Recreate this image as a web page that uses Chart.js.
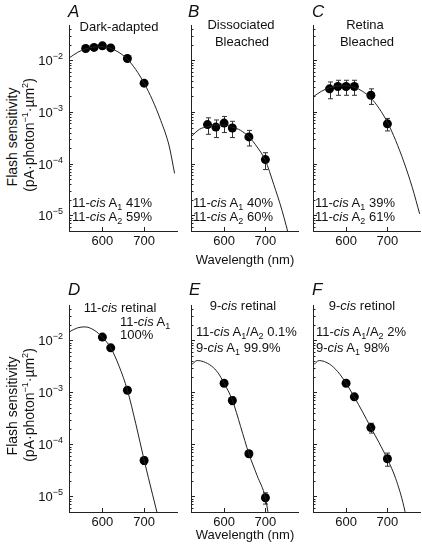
<!DOCTYPE html>
<html>
<head>
<meta charset="utf-8">
<script src="https://cdn.jsdelivr.net/npm/chart.js@4.4.0/dist/chart.umd.min.js"></script>
<style>
  body { margin: 0; background: #fff; }
  #fig { position: relative; width: 422px; height: 549px; overflow: hidden;
         font-family: "Liberation Sans", Arial, Helvetica, sans-serif; color: #111; }
  #fig canvas { position: absolute; }
  .t { position: absolute; font-size: 13px; line-height: 13px; white-space: nowrap; }
  .c { transform: translateX(-50%); }
  .lt { font-size: 17px; line-height: 17px; font-style: italic; }
  .s { font-size: 9px; vertical-align: -3px; line-height: 0; }
  .yl { position: absolute; font-size: 14px; line-height: 14px; white-space: nowrap;
        transform: translate(-50%, -50%) rotate(-90deg); }
</style>
</head>
<body>
<div id="fig">
  <canvas id="pA"></canvas><canvas id="pB"></canvas><canvas id="pC"></canvas>
  <canvas id="pD"></canvas><canvas id="pE"></canvas><canvas id="pF"></canvas>

  <!-- panel letters -->
  <div class="t lt" style="left:68px;top:3px">A</div>
  <div class="t lt" style="left:188px;top:3px">B</div>
  <div class="t lt" style="left:312px;top:3px">C</div>
  <div class="t lt" style="left:68px;top:281px">D</div>
  <div class="t lt" style="left:189px;top:281px">E</div>
  <div class="t lt" style="left:312px;top:281px">F</div>

  <!-- titles -->
  <div class="t c" style="left:119px;top:20px">Dark-adapted</div>
  <div class="t c" style="left:241px;top:18px">Dissociated</div>
  <div class="t c" style="left:242px;top:35px">Bleached</div>
  <div class="t c" style="left:365px;top:18px">Retina</div>
  <div class="t c" style="left:367px;top:35px">Bleached</div>
  <div class="t c" style="left:120px;top:301px">11-<i>cis</i> retinal</div>
  <div class="t c" style="left:243px;top:299px">9-<i>cis</i> retinal</div>
  <div class="t c" style="left:362px;top:299px">9-<i>cis</i> retinol</div>

  <!-- composition notes -->
  <div class="t" style="left:72px;top:196px">11-<i>cis</i> A<span class="s">1</span> 41%</div>
  <div class="t" style="left:72px;top:210px">11-<i>cis</i> A<span class="s">2</span> 59%</div>
  <div class="t" style="left:193px;top:196px">11-<i>cis</i> A<span class="s">1</span> 40%</div>
  <div class="t" style="left:193px;top:210px">11-<i>cis</i> A<span class="s">2</span> 60%</div>
  <div class="t" style="left:315px;top:196px">11-<i>cis</i> A<span class="s">1</span> 39%</div>
  <div class="t" style="left:315px;top:210px">11-<i>cis</i> A<span class="s">2</span> 61%</div>
  <div class="t" style="left:120px;top:315px">11-<i>cis</i> A<span class="s">1</span></div>
  <div class="t" style="left:120px;top:328px">100%</div>
  <div class="t" style="left:196px;top:325px">11-<i>cis</i> A<span class="s">1</span>/A<span class="s">2</span> 0.1%</div>
  <div class="t" style="left:196px;top:341px">9-<i>cis</i> A<span class="s">1</span> 99.9%</div>
  <div class="t" style="left:316px;top:325px">11-<i>cis</i> A<span class="s">1</span>/A<span class="s">2</span> 2%</div>
  <div class="t" style="left:316px;top:341px">9-<i>cis</i> A<span class="s">1</span> 98%</div>

  <!-- axis titles -->
  <div class="t c" style="left:245px;top:253px">Wavelength (nm)</div>
  <div class="t c" style="left:245px;top:528px">Wavelength (nm)</div>
  <div class="yl" style="left:12px;top:137px">Flash sensitivity</div>
  <div class="yl" style="left:27px;top:135px">(pA·photon<sup style="font-size:9px">−1</sup>·µm<sup style="font-size:9px">2</sup>)</div>
  <div class="yl" style="left:12px;top:406px">Flash sensitivity</div>
  <div class="yl" style="left:27px;top:405px">(pA·photon<sup style="font-size:9px">−1</sup>·µm<sup style="font-size:9px">2</sup>)</div>
</div>

<script>
// ---- data (flash sensitivity, pA photon^-1 um^2) ----
const wlTop = [560, 580, 600, 620, 660, 700];
const wlBottom = [600, 620, 660, 700];

const sensA = [0.0169, 0.0177, 0.019, 0.0173, 0.0108, 0.0036];
const errA  = [0.001, 0.001, 0.001, 0.001, 0.0006, 0.0003];
const sensB = [5.7e-4, 5.1e-4, 6.1e-4, 4.9e-4, 3.3e-4, 1.2e-4];
const errB  = [2.0e-4, 1.9e-4, 2.1e-4, 1.7e-4, 1.1e-4, 4.3e-5];
const sensC = [2.8e-3, 3.1e-3, 3.1e-3, 3.1e-3, 2.1e-3, 5.9e-4];
const errC  = [1.0e-3, 1.0e-3, 1.0e-3, 1.0e-3, 0.7e-3, 1.6e-4];
const sensD = [0.0116, 0.0072, 1.1e-3, 4.9e-5];
const errD  = [0.001, 0.0006, 0.0001, 0.8e-5];
const sensE = [1.5e-3, 7.0e-4, 6.6e-5, 9.4e-6];
const errE  = [1.0e-4, 1.2e-4, 1.0e-5, 2.3e-6];
const sensF = [1.5e-3, 8.2e-4, 2.1e-4, 5.3e-5];
const errF  = [1.0e-4, 1.0e-4, 4.5e-5, 1.5e-5];

// template fits
const fitWlA = [520, 540, 560, 580, 600, 620, 640, 660, 680, 700, 720, 740, 760, 773];
const fitA   = [0.011, 0.0141, 0.0166, 0.018, 0.0182, 0.017, 0.0141, 0.0105, 0.0066, 0.0036, 0.0017, 6.8e-4, 2.2e-4, 6.5e-5];
const fitWlB = [520, 540, 560, 580, 600, 620, 640, 660, 680, 700, 720, 740, 760];
const fitB   = [3.3e-4, 4.6e-4, 5.2e-4, 5.6e-4, 5.6e-4, 5.1e-4, 4.4e-4, 3.3e-4, 2.1e-4, 1.15e-4, 4.0e-5, 1.26e-5, 3.2e-6];
const fitWlC = [520, 540, 560, 580, 600, 620, 640, 660, 680, 700, 720, 740, 760, 778];
const fitC   = [1.95e-3, 2.5e-3, 2.95e-3, 3.16e-3, 3.2e-3, 3.0e-3, 2.5e-3, 1.86e-3, 1.17e-3, 6.3e-4, 2.8e-4, 1.07e-4, 3.5e-5, 1.07e-5];
const fitWlD = [520, 540, 558, 580, 600, 620, 640, 660, 680, 700, 720, 740];
const fitD   = [0.0145, 0.0174, 0.0182, 0.0158, 0.0115, 0.0072, 3.2e-3, 1.1e-3, 2.5e-4, 5.0e-5, 1.1e-5, 2.5e-6];
const fitWlE = [520, 535, 550, 570, 585, 600, 620, 640, 660, 680, 700, 712];
const fitE   = [3.3e-3, 4.1e-3, 3.9e-3, 3.2e-3, 2.4e-3, 1.5e-3, 7.1e-4, 2.2e-4, 6.6e-5, 2.5e-5, 9.3e-6, 2.5e-6];
const fitWlF = [520, 535, 560, 580, 600, 620, 640, 660, 680, 700, 720, 740, 750];
const fitF   = [3.3e-3, 4.1e-3, 3.5e-3, 2.5e-3, 1.5e-3, 8.1e-4, 4.2e-4, 2.1e-4, 1.07e-4, 5.2e-5, 2.2e-5, 6.3e-6, 2.5e-6];

const xTickValues = [600, 700];
const X_MIN = 520, X_MAX = 780;
const Y_MIN = 5.0e-6, Y_MAX = 0.048;

// ---- layout ----
const colLeft = [69, 191, 313];
const colWidth = [109, 108, 108];
const rowTop = [25, 305];
const rowHeight = [206, 207];
const AX_W = 45, AX_H = 25, PAD_T = 12, PAD_R = 4;
const FONT = '"Liberation Sans", Arial, sans-serif';

const pts = (xs, ys) => xs.map((x, i) => ({ x: x, y: ys[i] }));

// error bars under the markers
const errorBars = {
  id: 'errorBars',
  beforeDatasetsDraw(chart) {
    const ds = chart.data.datasets[1];
    if (!ds.err) return;
    const { ctx, scales: { x, y } } = chart;
    ctx.save();
    ctx.strokeStyle = '#333';
    ctx.lineWidth = 1;
    ds.data.forEach((p, i) => {
      const e = ds.err[i];
      const px = Math.round(x.getPixelForValue(p.x)) + 0.5;
      const hi = y.getPixelForValue(p.y + e);
      const lo = y.getPixelForValue(Math.max(p.y - e, p.y * 0.05));
      ctx.beginPath();
      ctx.moveTo(px, hi); ctx.lineTo(px, lo);
      ctx.moveTo(px - 2.5, hi); ctx.lineTo(px + 2.5, hi);
      ctx.moveTo(px - 2.5, lo); ctx.lineTo(px + 2.5, lo);
      ctx.stroke();
    });
    ctx.restore();
  }
};

// tick marks pointing into the plot, and 10^n labels with a real superscript
const innerTicks = {
  id: 'innerTicks',
  afterDraw(chart, args, opts) {
    const { ctx, chartArea: a, scales: { x, y } } = chart;
    ctx.save();
    ctx.strokeStyle = '#222';
    ctx.lineWidth = 1;
    ctx.beginPath();
    y.ticks.forEach(t => {
      const py = Math.round(y.getPixelForValue(t.value)) + 0.5;
      ctx.moveTo(a.left, py);
      ctx.lineTo(a.left + (t.major ? 4 : 2.5), py);
    });
    x.ticks.forEach(t => {
      const px = Math.round(x.getPixelForValue(t.value)) + 0.5;
      ctx.moveTo(px, a.bottom);
      ctx.lineTo(px, a.bottom - 4);
    });
    ctx.stroke();

    if (opts.labels) {
      ctx.fillStyle = '#111';
      ctx.textBaseline = 'alphabetic';
      ctx.textAlign = 'left';
      y.ticks.filter(t => t.major).forEach(t => {
        const py = y.getPixelForValue(t.value);
        const ex = '\u2212' + (-t.exp);
        ctx.font = '9px ' + FONT;
        const we = ctx.measureText(ex).width;
        ctx.font = '13px ' + FONT;
        const wb = ctx.measureText('10').width;
        const right = a.left - 6;
        ctx.fillText('10', right - we - wb, py + 5);
        ctx.font = '9px ' + FONT;
        ctx.fillText(ex, right - we, py - 1);
      });
    }
    ctx.restore();
  }
};

function makePanel(id, col, row, wl, sens, err, fitWl, fit) {
  const cv = document.getElementById(id);
  cv.width = colWidth[col] + AX_W + PAD_R;
  cv.height = rowHeight[row] + PAD_T + AX_H;
  cv.style.left = (colLeft[col] - AX_W) + 'px';
  cv.style.top = (rowTop[row] - PAD_T) + 'px';

  return new Chart(cv, {
    type: 'scatter',
    data: {
      datasets: [
        {
          data: pts(fitWl, fit),
          showLine: true,
          pointRadius: 0,
          borderColor: '#222',
          borderWidth: 1,
          cubicInterpolationMode: 'monotone'
        },
        {
          data: pts(wl, sens),
          err: err,
          pointRadius: 4.5,
          backgroundColor: '#000',
          borderWidth: 0
        }
      ]
    },
    options: {
      responsive: false,
      animation: false,
      events: [],
      layout: { padding: { top: PAD_T, right: PAD_R, left: 0, bottom: 0 } },
      plugins: {
        legend: { display: false },
        tooltip: { enabled: false },
        innerTicks: { labels: col === 0 }
      },
      scales: {
        x: {
          type: 'linear',
          min: X_MIN,
          max: X_MAX,
          afterBuildTicks: s => { s.ticks = xTickValues.map(v => ({ value: v })); },
          afterFit: s => { s.height = AX_H; },
          grid: { display: false, drawTicks: false },
          border: { display: true, color: '#222', width: 1 },
          ticks: {
            padding: 3,
            color: '#111',
            font: { family: FONT, size: 13 },
            maxRotation: 0,
            autoSkip: false
          }
        },
        y: {
          type: 'logarithmic',
          min: Y_MIN,
          max: Y_MAX,
          afterBuildTicks: s => {
            const t = [];
            for (let e = -6; e <= -1; e++) {
              for (let m = 1; m <= 9; m++) {
                const v = m * Math.pow(10, e);
                if (v >= Y_MIN && v <= Y_MAX) t.push({ value: v, major: m === 1, exp: e });
              }
            }
            s.ticks = t;
          },
          afterFit: s => { s.width = AX_W; },
          grid: { display: false, drawTicks: false },
          border: { display: true, color: '#222', width: 1 },
          ticks: { display: false }
        }
      }
    },
    plugins: [errorBars, innerTicks]
  });
}

makePanel('pA', 0, 0, wlTop, sensA, errA, fitWlA, fitA);
makePanel('pB', 1, 0, wlTop, sensB, errB, fitWlB, fitB);
makePanel('pC', 2, 0, wlTop, sensC, errC, fitWlC, fitC);
makePanel('pD', 0, 1, wlBottom, sensD, errD, fitWlD, fitD);
makePanel('pE', 1, 1, wlBottom, sensE, errE, fitWlE, fitE);
makePanel('pF', 2, 1, wlBottom, sensF, errF, fitWlF, fitF);
</script>
</body>
</html>
